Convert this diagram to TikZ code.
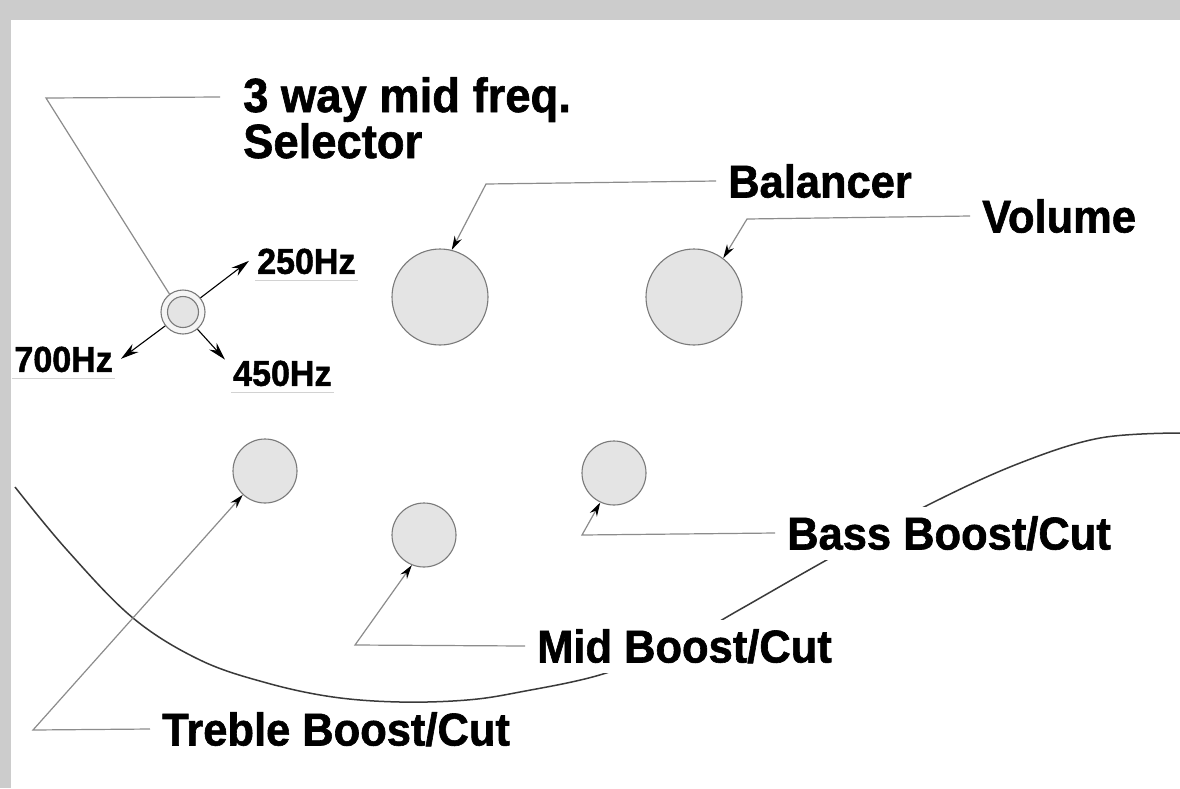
\documentclass[tikz,border=0pt]{standalone}
\usepackage{fontspec}
\setmainfont{Liberation Sans}[FakeStretch=0.945,BoldFeatures={FakeBold=1.3}]
\usetikzlibrary{arrows.meta}

\definecolor{panel}{HTML}{CCCCCC}
\definecolor{knobfill}{HTML}{E4E4E4}
\definecolor{knobline}{HTML}{7A7A7A}
\definecolor{leadline}{HTML}{8C8C8C}
\definecolor{bodyline}{HTML}{3A3A3A}

\begin{document}
\begin{tikzpicture}[x=1pt,y=-1pt,>={Stealth[length=18pt,width=10pt]},
    knob/.style={circle,draw=knobline,fill=knobfill,line width=1.1pt,inner sep=0pt},
    lbl/.style={font=\bfseries\fontsize{46}{48}\selectfont,anchor=west,
      inner xsep=12pt,inner ysep=10pt,text height=33pt,text depth=0pt},
    gap/.style={fill=white},
    freq/.style={font=\bfseries\fontsize{36}{38}\selectfont,
      inner xsep=8pt,inner ysep=0pt,text height=26pt,text depth=0pt},
    lead/.style={draw=leadline,line width=1.2pt,
      -{Stealth[length=14pt,width=8pt,color=black]}},
    uline/.style={draw=gray!35,line width=1pt}]
    \useasboundingbox (0,0) rectangle (1180,788);
    \fill[panel] (0,0) rectangle (1180,788);
    \fill[white] (11,20) rectangle (1180,788);
    %
    \draw[bodyline,line width=1.5pt] plot[smooth,tension=0.6] coordinates {
      (15,487) (67,550) (133,618) (200,660) (267,683) (333,697) (400,702)
      (467,700) (520,692) (603,674) (680,643) (739,610) (832,557) (932,503)
      (1020,463) (1100,438) (1180,433)};
    %
    \node[knob,minimum size=44pt,fill=gray!8] (sel) at (183,312) {};
    \node[knob,minimum size=31pt] (selin) at (sel) {};
    \node[knob,minimum size=96pt] (bal) at (440,297) {};
    \node[knob,minimum size=96pt] (vol) at (694,297) {};
    \node[knob,minimum size=64pt] (tre) at (265,471) {};
    \node[knob,minimum size=64pt] (mid) at (424,535) {};
    \node[knob,minimum size=64pt] (bass) at (614,473) {};
    %
    \node[lbl,inner ysep=0pt,font=\bfseries\fontsize{48}{50}\selectfont,text height=34pt]
      (selt) at (231,95) {3 way mid freq.};
    \node[lbl,inner ysep=0pt,font=\bfseries\fontsize{48}{50}\selectfont,text height=34pt]
      (selt2) at (231,141) {Selector};
    \node[lbl] (balt) at (716,181) {Balancer};
    \node[lbl] (volt) at (970,216) {Volume};
    \node[lbl,gap] (basst) at (775,533) {Bass Boost/Cut};
    \node[lbl,gap] (midt) at (525,646) {Mid Boost/Cut};
    \node[lbl] (tret) at (150,729) {Treble Boost/Cut};
    %
    \node[freq,anchor=south west] (f250) at (249,274) {250Hz};
    \node[freq,anchor=south east] (f700) at (121,372) {700Hz};
    \node[freq,anchor=south west] (f450) at (225,386) {450Hz};
    \foreach \f in {f250,f700,f450}
      \draw[uline] ([shift={(6,6)}]\f.south west) -- ([shift={(-6,6)}]\f.south east);
    \draw[->,line width=1.1pt] (sel.39) -- (f250.west);
    \draw[->,line width=1.1pt] (sel.218) -- (f700.east);
    \draw[->,line width=1.1pt] (sel.-50) -- (f450.north west);
    %
    \coordinate (selb) at (46,98);
    \coordinate (balb) at (486,184);
    \coordinate (volb) at (747,219);
    \coordinate (bassb) at (582,535);
    \coordinate (midb) at (355,645);
    \coordinate (treb) at (33,730);
    \draw[lead,-] ([xshift=-11pt,yshift=-2pt]selt.west) -- (selb) -- (sel.127);
    \draw[lead] (balt.west) -- (balb) -- (bal.76);
    \draw[lead] (volt.west) -- (volb) -- (vol.53);
    \draw[lead] (basst.west) -- (bassb) -- (bass.245);
    \draw[lead] (midt.west) -- (midb) -- (mid.248);
    \draw[lead] (tret.west) -- (treb) -- (tre.227);
  \end{tikzpicture}
\end{document}
